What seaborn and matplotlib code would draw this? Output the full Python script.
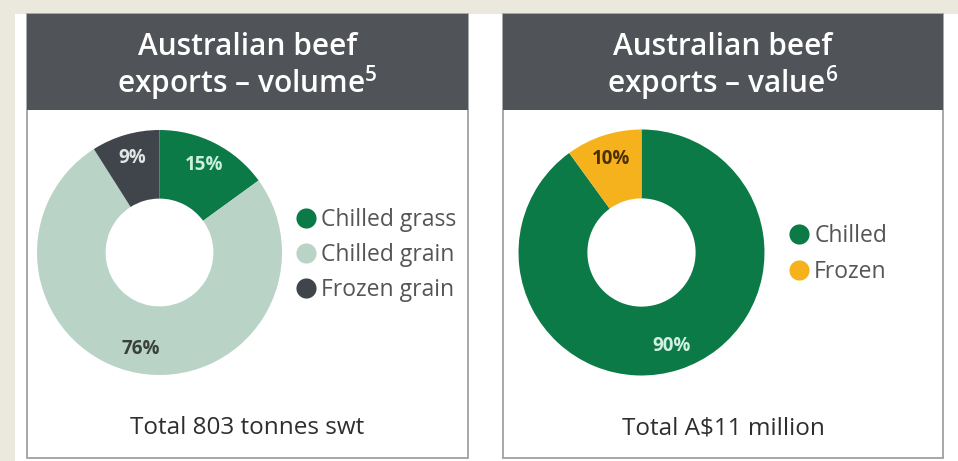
import matplotlib
matplotlib.use("Agg")
import matplotlib.pyplot as plt
from matplotlib.patches import Rectangle
from matplotlib.lines import Line2D
import seaborn as sns

sns.set_theme(style="white")
plt.rcParams["font.family"] = ["Open Sans", "DejaVu Sans"]
plt.rcParams["mathtext.fontset"] = "custom"
plt.rcParams["mathtext.rm"] = "Open Sans:semibold"

# Volume split
vol_labels = ["Chilled grass", "Chilled grain", "Frozen grain"]
vol_share = [15, 76, 9]
vol_colors = ["#0b7a47", "#b9d4c6", "#40454c"]
vol_text_colors = ["#c8f0dc", "#3a403c", "#e2e4e6"]

# Value split
val_labels = ["Chilled", "Frozen"]
val_share = [90, 10]
val_colors = ["#0b7a47", "#f5b21c"]
val_text_colors = ["#d2f0e0", "#4a3000"]

titles = [("Australian beef", "exports \u2013 volume$^{\\mathrm{5}}$"),
          ("Australian beef", "exports \u2013 value$^{\\mathrm{6}}$")]
totals = ["Total 803 tonnes swt", "Total A$11 million"]

W, H = 958, 461
fig = plt.figure(figsize=(W / 100, H / 100), dpi=100)
fig.patch.set_facecolor("white")

# Pixel-space canvas for panels and text
bg = fig.add_axes([0, 0, 1, 1])
bg.set_xlim(0, W)
bg.set_ylim(H, 0)
bg.axis("off")
bg.add_patch(Rectangle((0, 0), W, 14, color="#ebe8dd", lw=0))
bg.add_patch(Rectangle((0, 0), 15, H, color="#ebe8dd", lw=0))

panels = [(27, 468), (503, 943)]
top, head_bot, bottom = 14, 110, 458
for (x0, x1), (l1, l2), tot in zip(panels, titles, totals):
    bg.add_patch(Rectangle((x0, top), x1 - x0, bottom - top, facecolor="white",
                           edgecolor="#a0a0a0", lw=1.3))
    bg.add_patch(Rectangle((x0, top), x1 - x0, head_bot - top, color="#505458", lw=0))
    cx = (x0 + x1) / 2
    bg.text(cx, 47, l1, color="white", fontsize=21.5, fontweight="semibold",
            ha="center", va="center")
    bg.text(cx, 83, l2, color="white", fontsize=21.5, fontweight="semibold",
            ha="center", va="center")
    bg.text(cx, 428, tot, color="#2e2e2e", fontsize=17.5, ha="center", va="center")


def donut(cx, cy, r, shares, colors, text_colors, labels, leg_x, leg_y):
    ax = fig.add_axes([(cx - r) / W, (H - cy - r) / H, 2 * r / W, 2 * r / H])
    wedges, _, autotexts = ax.pie(
        shares, colors=colors, startangle=90, counterclock=False,
        wedgeprops=dict(width=0.56, edgecolor="none"),
        autopct="%d%%", pctdistance=0.8,
        textprops=dict(fontsize=13.5, fontweight="bold"))
    for t, c in zip(autotexts, text_colors):
        t.set_color(c)
    ax.set_xlim(-1, 1)
    ax.set_ylim(-1, 1)
    ax.axis("off")
    handles = [Line2D([], [], marker="o", ls="none", markersize=14.5,
                      markerfacecolor=c, markeredgecolor="none") for c in colors]
    fig.legend(handles, labels, loc="center left",
               bbox_to_anchor=(leg_x / W, 1 - leg_y / H), frameon=False,
               fontsize=16.5, labelcolor="#555555", handletextpad=0.2,
               labelspacing=0.5, borderpad=0, borderaxespad=0, handlelength=0.9)


donut(159.5, 252.5, 122.5, vol_share, vol_colors, vol_text_colors, vol_labels, 296, 255)
donut(641.5, 252.5, 123, val_share, val_colors, val_text_colors, val_labels, 789, 254)

fig.savefig("out.png", dpi=100)
